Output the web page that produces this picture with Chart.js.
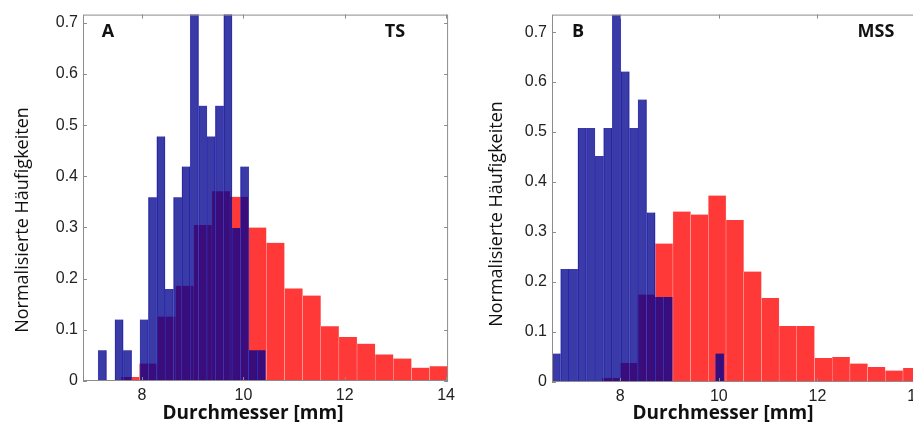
<!DOCTYPE html>
<html>
<head>
<meta charset="utf-8">
<script src="https://cdn.jsdelivr.net/npm/chart.js@4/dist/chart.umd.min.js"></script>
<style>
  html, body { margin: 0; padding: 0; background: #fff; overflow: hidden; width: 913px; height: 428px; }
  #wrapA { position: absolute; left: 0; top: 0; width: 460px; height: 428px; }
  #wrapB { position: absolute; left: 460px; top: 0; width: 470px; height: 428px; }
</style>
</head>
<body>
<div id="wrapA"><canvas id="histA"></canvas></div>
<div id="wrapB"><canvas id="histB"></canvas></div>
<script>
// Panel A (TS): bin centres [mm] and normalised frequencies
const redCentersA = [7.768, 8.126, 8.484, 8.842, 9.200, 9.558, 9.916, 10.274, 10.632, 10.990, 11.348, 11.706, 12.064, 12.422, 12.780, 13.138, 13.496, 13.854];
const redValuesA = [0.008, 0.034, 0.126, 0.186, 0.305, 0.371, 0.360, 0.300, 0.270, 0.181, 0.167, 0.107, 0.086, 0.073, 0.052, 0.044, 0.026, 0.029];
const blueCentersA = [7.216, 7.381, 7.546, 7.712, 7.877, 8.042, 8.207, 8.372, 8.538, 8.703, 8.868, 9.033, 9.198, 9.364, 9.529, 9.694, 9.859, 10.024, 10.190, 10.355];
const blueValuesA = [0.060, 0, 0.120, 0.060, 0, 0.120, 0.359, 0.478, 0.180, 0.359, 0.419, 0.780, 0.538, 0.478, 0.538, 0.840, 0.299, 0.419, 0.060, 0.060];

// Panel B (MSS)
const redCentersB = [7.812, 8.171, 8.530, 8.889, 9.248, 9.607, 9.966, 10.325, 10.684, 11.043, 11.402, 11.761, 12.120, 12.479, 12.838, 13.197, 13.556, 13.915];
const redValuesB = [0.008, 0.038, 0.175, 0.277, 0.341, 0.335, 0.373, 0.324, 0.221, 0.168, 0.112, 0.112, 0.048, 0.050, 0.037, 0.030, 0.023, 0.028];
const blueCentersB = [6.702, 6.877, 7.051, 7.226, 7.400, 7.575, 7.749, 7.924, 8.098, 8.273, 8.447, 8.622, 8.796, 8.971, 9.145, 9.320, 9.494, 9.669, 9.843, 10.018];
const blueValuesB = [0.057, 0.226, 0.226, 0.508, 0.508, 0.452, 0.508, 0.735, 0.621, 0.508, 0.565, 0.339, 0.170, 0.170, 0, 0, 0, 0, 0, 0.057];

const xTitle = 'Durchmesser [mm]';
const yTitle = 'Normalisierte Häufigkeiten';

function toPoints(xs, ys) {
  return xs.map((x, i) => ({ x: x, y: ys[i] }));
}

// frame, inner tick marks, panel letters and axis titles
const panelDecor = {
  id: 'panelDecor',
  afterDraw(chart, args, o) {
    const { ctx, chartArea: a } = chart;
    const xs = chart.scales.x, ys = chart.scales.y;
    ctx.save();
    ctx.strokeStyle = '#8c8c8c';
    ctx.lineWidth = 1;
    ctx.strokeRect(a.left + 0.5, a.top + 0.5, a.right - a.left - 1, a.bottom - a.top - 1);
    ctx.beginPath();
    xs.ticks.forEach(t => {
      const px = Math.round(xs.getPixelForValue(t.value)) + 0.5;
      ctx.moveTo(px, a.bottom); ctx.lineTo(px, a.bottom - 4);
      ctx.moveTo(px, a.top); ctx.lineTo(px, a.top + 4);
    });
    ys.ticks.forEach(t => {
      const py = Math.round(ys.getPixelForValue(t.value)) + 0.5;
      ctx.moveTo(a.left, py); ctx.lineTo(a.left + 4, py);
      ctx.moveTo(a.right, py); ctx.lineTo(a.right - 4, py);
    });
    ctx.stroke();

    ctx.fillStyle = '#111';
    ctx.textBaseline = 'middle';
    ctx.font = 'bold 18px "Open Sans"';
    ctx.textAlign = 'center';
    ctx.fillText(o.letter, o.letterX, 32);
    ctx.fillText(o.tag, o.tagX, 32);

    ctx.font = 'bold 19px "Open Sans"';
    ctx.fillText(xTitle, o.xTitleX, 414);

    ctx.font = '18px "Open Sans"';
    ctx.translate(o.yTitleX, o.yTitleY);
    ctx.rotate(-Math.PI / 2);
    ctx.fillText(yTitle, 0, 0);
    ctx.restore();
  }
};

function histConfig(redX, redY, blueX, blueY, xMin, xMax, yMax, axisWidth, padRight, padTop, decor) {
  return {
    type: 'bar',
    data: {
      datasets: [
        {
          label: 'blau',
          data: toPoints(blueX, blueY),
          xAxisID: 'x2',
          backgroundColor: 'rgba(0, 0, 142, 0.77)',
          borderColor: 'rgba(80, 80, 205, 0.77)',
          borderWidth: { top: 0, left: 0.5, right: 0.5, bottom: 0 },
          grouped: false,
          barPercentage: 1,
          categoryPercentage: 1,
          order: 0
        },
        {
          label: 'rot',
          data: toPoints(redX, redY),
          xAxisID: 'x',
          backgroundColor: 'rgb(255, 56, 56)',
          borderColor: 'rgba(255, 200, 200, 0.9)',
          borderWidth: { top: 0, left: 0.5, right: 0.5, bottom: 0 },
          grouped: false,
          barPercentage: 1,
          categoryPercentage: 1,
          order: 1
        }
      ]
    },
    options: {
      responsive: true,
      maintainAspectRatio: false,
      animation: false,
      layout: { padding: { left: 0, right: padRight, top: padTop, bottom: 0 } },
      scales: {
        x: {
          type: 'linear',
          min: xMin,
          max: xMax,
          offset: false,
          grid: { display: false, drawTicks: false },
          border: { display: false },
          ticks: {
            stepSize: 2,
            includeBounds: false,
            padding: 5,
            color: '#222',
            font: { family: 'Liberation Sans', size: 16 }
          },
          afterFit: function (scale) { scale.height = 428 - 381 - padTop + 12; }
        },
        x2: {
          type: 'linear',
          display: false,
          min: xMin,
          max: xMax,
          offset: false,
          ticks: { stepSize: 2, includeBounds: false }
        },
        y: {
          min: 0,
          max: yMax,
          grid: { display: false, drawTicks: false },
          border: { display: false },
          ticks: {
            stepSize: 0.1,
            includeBounds: false,
            padding: 5,
            color: '#222',
            font: { family: 'Liberation Sans', size: 16 }
          },
          afterFit: function (scale) { scale.width = axisWidth; }
        }
      },
      plugins: {
        legend: { display: false },
        tooltip: { enabled: false },
        panelDecor: decor
      }
    },
    plugins: [panelDecor]
  };
}

const histA = new Chart(document.getElementById('histA').getContext('2d'),
  histConfig(redCentersA, redValuesA, blueCentersA, blueValuesA, 6.834, 14.04, 0.716, 83, 8, 12,
    { letter: 'A', letterX: 108, tag: 'TS', tagX: 395, xTitleX: 253, yTitleX: 23, yTitleY: 220 }));

const histB = new Chart(document.getElementById('histB').getContext('2d'),
  histConfig(redCentersB, redValuesB, blueCentersB, blueValuesB, 6.615, 14.035, 0.735, 92, 12, 13,
    { letter: 'B', letterX: 118, tag: 'MSS', tagX: 416, xTitleX: 263, yTitleX: 37, yTitleY: 214 }));
</script>
</body>
</html>
